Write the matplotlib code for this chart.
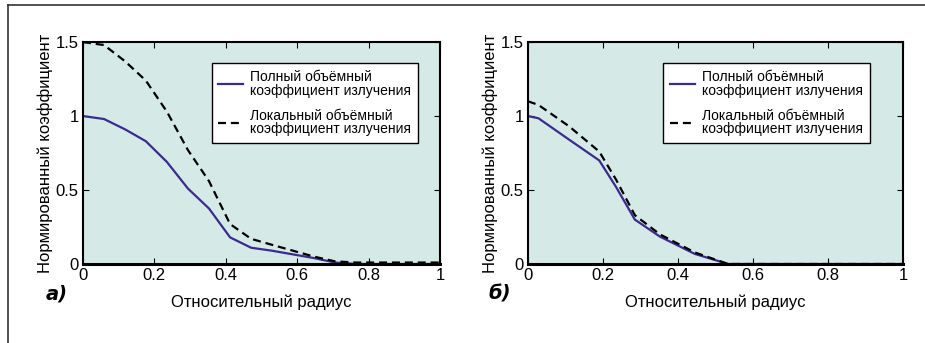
"""Normalized emission coefficient vs relative radius, panels a) and б)."""

import matplotlib
matplotlib.use("Agg")
import matplotlib.pyplot as plt
from matplotlib.lines import Line2D

plt.rcParams["font.family"] = ["Liberation Sans", "DejaVu Sans"]

# panel a)
x_a = [0.0, 0.059, 0.118, 0.176, 0.235, 0.294, 0.353, 0.412, 0.471, 0.529,
       0.588, 0.647, 0.706, 0.765, 0.824, 0.882, 0.941, 1.0]
full_a = [1.0, 0.98, 0.91, 0.83, 0.69, 0.51, 0.375, 0.18, 0.11, 0.09,
          0.065, 0.04, 0.01, 0.0, 0.0, 0.0, 0.0, 0.0]
local_a = [1.5, 1.48, 1.37, 1.24, 1.03, 0.77, 0.56, 0.27, 0.17, 0.13,
           0.09, 0.05, 0.018, 0.01, 0.01, 0.01, 0.01, 0.01]

# panel б)
x_b = [0.0, 0.028, 0.11, 0.19, 0.235, 0.285, 0.352, 0.445, 0.534, 0.6,
       0.7, 0.8, 0.9, 1.0]
full_b = [1.0, 0.985, 0.84, 0.70, 0.52, 0.30, 0.185, 0.068, 0.0, 0.0,
          0.0, 0.0, 0.0, 0.0]
local_b = [1.1, 1.075, 0.93, 0.76, 0.57, 0.33, 0.20, 0.078, 0.0, 0.0,
           0.0, 0.0, 0.0, 0.0]

labels = ["Полный объёмный\nкоэффициент излучения",
          "Локальный объёмный\nкоэффициент излучения"]
panel_tags = ["а)", "б)"]
x_ticks = [0, 0.2, 0.4, 0.6, 0.8, 1]
x_ticklabels = ["0", "0.2", "0.4", "0.6", "0.8", "1"]
y_ticks = [0, 0.5, 1, 1.5]
y_ticklabels = ["0", "0.5", "1", "1.5"]

BG = "#d5eae7"
BLUE = "#3b2b8e"

fig = plt.figure(figsize=(9.25, 3.43), dpi=100)
fig.add_artist(Line2D([0.009, 1.0], [0.985, 0.985], color="#333333", lw=1.2))
fig.add_artist(Line2D([0.009, 0.009], [0.0, 0.985], color="#333333", lw=1.2))

axes = [fig.add_axes([0.0897, 0.2303, 0.386, 0.647]),
        fig.add_axes([0.5708, 0.2303, 0.4054, 0.647])]
data = [(x_a, full_a, local_a), (x_b, full_b, local_b)]

for ax, (xs, full, local), tag in zip(axes, data, panel_tags):
    ax.set_facecolor(BG)
    ax.plot(xs, full, color=BLUE, lw=1.6, label=labels[0])
    ax.plot(xs, local, color="black", lw=1.6, dashes=(3.6, 2.2), label=labels[1])
    ax.set_xlim(0, 1)
    ax.set_ylim(0, 1.5)
    ax.set_xticks(x_ticks)
    ax.set_xticklabels(x_ticklabels)
    ax.set_yticks(y_ticks)
    ax.set_yticklabels(y_ticklabels)
    ax.tick_params(direction="in", top=True, right=True, length=4,
                   labelsize=12, pad=3)
    for s in ax.spines.values():
        s.set_linewidth(1.5)
    ax.spines["bottom"].set_linewidth(2.2)
    ax.set_xlabel("Относительный радиус", fontsize=12, labelpad=8)
    ax.set_ylabel("Нормированный коэффициент", fontsize=12, labelpad=2)
    leg = ax.legend(loc="upper left", bbox_to_anchor=(0.36, 0.905),
                    fontsize=10, frameon=True, fancybox=False,
                    framealpha=1, edgecolor="black", handlelength=1.8,
                    borderpad=0.5, labelspacing=0.8, handletextpad=0.5,
                    borderaxespad=0)
    leg.get_frame().set_linewidth(1.0)
    for t in leg.get_texts():
        t.set_linespacing(0.95)
    ax.text(-0.105, -0.135, tag, transform=ax.transAxes, fontsize=14,
            fontweight="bold", fontstyle="italic", family="DejaVu Sans",
            ha="left", va="center")

fig.savefig("out.png", dpi=100)
